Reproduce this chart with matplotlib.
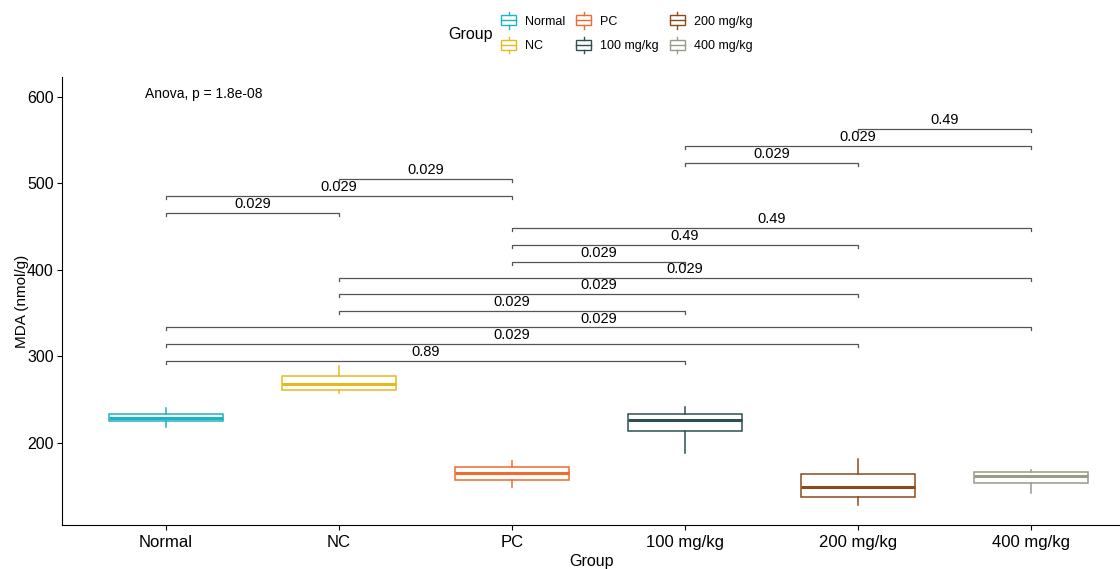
import matplotlib
matplotlib.use("Agg")
import matplotlib.pyplot as plt
from matplotlib.legend_handler import HandlerBase
from matplotlib.patches import Rectangle
from matplotlib.lines import Line2D

plt.rcParams['font.family'] = ['Liberation Sans', 'DejaVu Sans']

groups = ["Normal", "NC", "PC", "100 mg/kg", "200 mg/kg", "400 mg/kg"]
colors = ["#1DB3C1", "#E6B91E", "#F26A2E", "#2F4F4F", "#8B4A1C", "#9A9A88"]

# box summaries
whisker_low = [217.8, 257.5, 149.3, 188.5, 128.1, 141.5]
q1 = [225.5, 261.3, 157.3, 213.6, 136.9, 153.5]
median = [229.3, 268.6, 165.0, 226.0, 149.2, 162.0]
q3 = [233.3, 277.5, 172.0, 233.3, 164.3, 166.6]
whisker_high = [240.2, 289.0, 179.0, 241.0, 181.2, 168.9]

# pairwise comparisons (group index a, group index b, p label, bracket height)
comp_a = [0, 0, 0, 1, 1, 1, 2, 2, 2, 0, 0, 1, 3, 3, 4]
comp_b = [3, 4, 5, 3, 4, 5, 3, 4, 5, 1, 2, 2, 4, 5, 5]
comp_p = ["0.89", "0.029", "0.029", "0.029", "0.029", "0.029", "0.029", "0.49", "0.49",
          "0.029", "0.029", "0.029", "0.029", "0.029", "0.49"]
comp_y = [294.9, 314.2, 333.4, 352.7, 372.0, 390.5, 409.6, 428.9, 448.2,
          466.3, 485.6, 504.9, 524.1, 543.4, 562.7]

anova_label = "Anova, p = 1.8e-08"


class BoxHandler(HandlerBase):
    def create_artists(self, legend, orig_handle, xdescent, ydescent,
                       width, height, fontsize, trans):
        c = orig_handle.get_color()
        cx = width / 2 - xdescent
        bw = width * 0.85
        r = Rectangle((cx - bw / 2, -ydescent + height * 0.05), bw, height * 0.9,
                      facecolor="white", edgecolor=c, lw=1, transform=trans)
        m = Line2D([cx - bw / 2, cx + bw / 2], [-ydescent + height * 0.5] * 2,
                   color=c, lw=1, transform=trans)
        w1 = Line2D([cx, cx], [-ydescent + height * 0.95, -ydescent + height * 1.25],
                    color=c, lw=1, transform=trans)
        w2 = Line2D([cx, cx], [-ydescent + height * 0.05, -ydescent - height * 0.25],
                    color=c, lw=1, transform=trans)
        return [r, m, w1, w2]


fig = plt.figure(figsize=(11.2, 5.69), dpi=100)
ax = fig.add_axes([0.0554, 0.0773, 0.9446, 0.7874])

stats = []
for i, g in enumerate(groups):
    stats.append(dict(label=g, whislo=whisker_low[i], q1=q1[i], med=median[i],
                      q3=q3[i], whishi=whisker_high[i], fliers=[]))

for i, s in enumerate(stats):
    c = colors[i]
    ax.bxp([s], positions=[i], widths=0.66, showcaps=False, patch_artist=True,
           boxprops=dict(facecolor="white", edgecolor=c, lw=1.1),
           medianprops=dict(color=c, lw=2.2),
           whiskerprops=dict(color=c, lw=1.1),
           manage_ticks=False)

tick = 3.5
for a, b, p, y in zip(comp_a, comp_b, comp_p, comp_y):
    ax.plot([a, a, b, b], [y - tick, y, y, y - tick], color="#555555", lw=0.9)
    ax.text((a + b) / 2, y + 2, p, ha="center", va="bottom", fontsize=10.5)

ax.text(-0.12, 603, anova_label, ha="left", va="center", fontsize=10)

ax.set_xlim(-0.6, 5.515)
ax.set_ylim(105, 623)
ax.set_xticks(range(len(groups)))
ax.set_xticklabels(groups, fontsize=12)
ax.set_yticks([200, 300, 400, 500, 600])
ax.tick_params(axis="y", labelsize=11.5, pad=2.5)
ax.set_xlabel("Group", fontsize=11.5, labelpad=3)
ax.set_ylabel("MDA (nmol/g)", fontsize=11)
ax.yaxis.set_label_coords(-0.031, 0.5)
for side in ["top", "right"]:
    ax.spines[side].set_visible(False)

handles = [Line2D([], [], color=c) for c in colors]
fig.legend(handles, groups, handler_map={Line2D: BoxHandler()}, ncol=3,
           loc="upper center", bbox_to_anchor=(0.559, 0.994), frameon=False,
           fontsize=9, handlelength=1.4, handleheight=1.0, columnspacing=0.8,
           handletextpad=0.6, labelspacing=0.95)
fig.text(0.42, 0.94, "Group", ha="center", va="center", fontsize=11.5)

fig.savefig("out.png", dpi=100)
